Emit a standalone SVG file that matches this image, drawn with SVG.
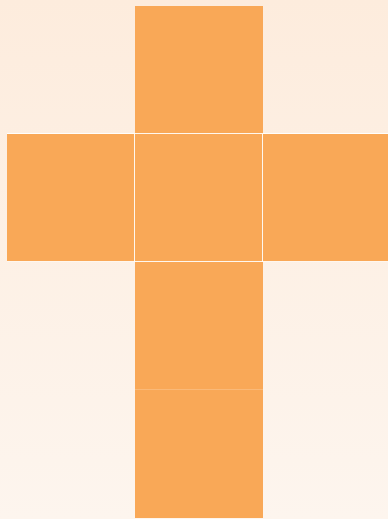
<svg xmlns="http://www.w3.org/2000/svg" width="388" height="519" viewBox="0 0 388 519">
<defs>
<linearGradient id="bg" x1="0" y1="0" x2="0" y2="1">
<stop offset="0" stop-color="#FDECDD"/>
<stop offset="1" stop-color="#FDF5EE"/>
</linearGradient>
<style>
.f{fill:#F9A857}
.d{stroke:#FFFFFF;stroke-width:1;stroke-opacity:0.9;fill:none}
.d2{stroke:#FFFFFF;stroke-width:1;stroke-opacity:0.2;fill:none}
</style>
</defs>
<rect x="0" y="0" width="388" height="519" fill="url(#bg)"/>
<g id="top"><rect class="f" x="135" y="6" width="128" height="128"/></g>
<g id="left"><rect class="f" x="7" y="134" width="128" height="128"/></g>
<g id="center"><rect class="f" x="135" y="134" width="128" height="128"/></g>
<g id="right"><rect class="f" x="263" y="134" width="128" height="128"/></g>
<g id="bottom1"><rect class="f" x="135" y="262" width="128" height="128"/></g>
<g id="bottom2"><rect class="f" x="135" y="390" width="128" height="128"/></g>
<g id="connectors">
<path class="d" d="M7 133.5H388M134.5 134V262M262.5 134V262M7 261.5H388"/>
<path class="d2" d="M135 389.5H263"/>
</g>
</svg>
